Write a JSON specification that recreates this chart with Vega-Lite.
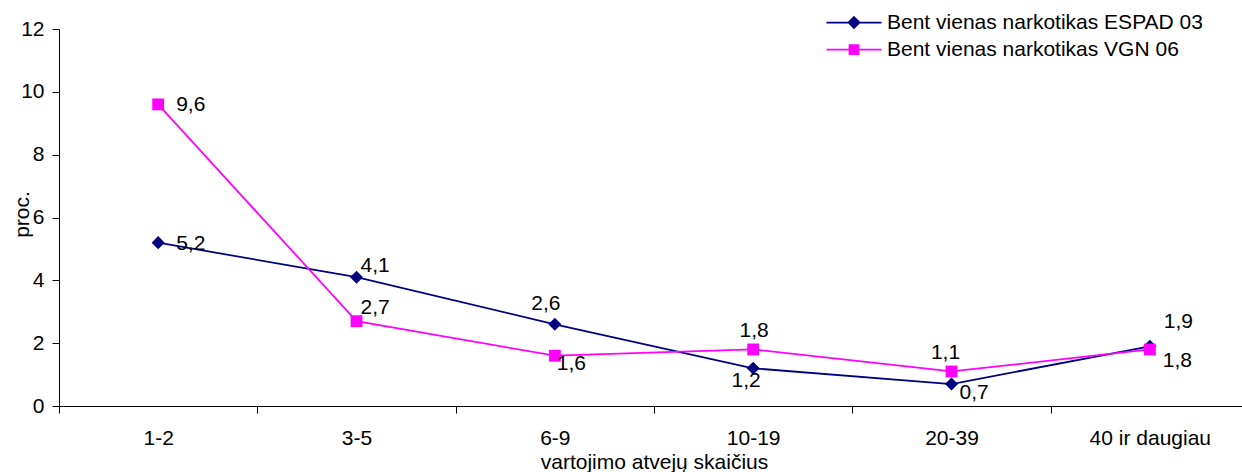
{
  "$schema": "https://vega.github.io/schema/vega-lite/v6.json",
  "width": 1183,
  "height": 377,
  "autosize": {"type": "none"},
  "padding": {"left": 59, "top": 29, "right": 0, "bottom": 66},
  "background": "white",
  "config": {
    "view": {"stroke": null},
    "locale": {"number": {"decimal": ",", "thousands": " ", "grouping": [3], "currency": ["", " €"]}},
    "font": "Liberation Sans",
    "axis": {
      "labelFont": "Liberation Sans", "labelFontSize": 21, "labelColor": "black",
      "titleFont": "Liberation Sans", "titleFontSize": 21, "titleFontWeight": "normal", "titleColor": "black",
      "domainColor": "black", "tickColor": "black", "grid": false, "tickSize": 7
    },
    "text": {"font": "Liberation Sans", "fontSize": 21, "color": "black", "baseline": "middle"}
  },
  "data": {
    "values": [
      {"cat": "1-2", "series": "Bent vienas narkotikas ESPAD 03", "value": 5.2},
      {"cat": "3-5", "series": "Bent vienas narkotikas ESPAD 03", "value": 4.1},
      {"cat": "6-9", "series": "Bent vienas narkotikas ESPAD 03", "value": 2.6},
      {"cat": "10-19", "series": "Bent vienas narkotikas ESPAD 03", "value": 1.2},
      {"cat": "20-39", "series": "Bent vienas narkotikas ESPAD 03", "value": 0.7},
      {"cat": "40 ir daugiau", "series": "Bent vienas narkotikas ESPAD 03", "value": 1.9},
      {"cat": "1-2", "series": "Bent vienas narkotikas VGN 06", "value": 9.6},
      {"cat": "3-5", "series": "Bent vienas narkotikas VGN 06", "value": 2.7},
      {"cat": "6-9", "series": "Bent vienas narkotikas VGN 06", "value": 1.6},
      {"cat": "10-19", "series": "Bent vienas narkotikas VGN 06", "value": 1.8},
      {"cat": "20-39", "series": "Bent vienas narkotikas VGN 06", "value": 1.1},
      {"cat": "40 ir daugiau", "series": "Bent vienas narkotikas VGN 06", "value": 1.8}
    ]
  },
  "encoding": {
    "x": {
      "field": "cat", "type": "nominal", "bandPosition": 0.5,
      "scale": {"type": "band", "domain": ["1-2", "3-5", "6-9", "10-19", "20-39", "40 ir daugiau"], "range": [0, 1190], "paddingInner": 0, "paddingOuter": 0},
      "axis": {"labelAngle": 0, "labelPadding": 14, "tickBand": "extent", "title": "vartojimo atvejų skaičius", "titleY": 62, "titleBaseline": "alphabetic"}
    },
    "y": {
      "field": "value", "type": "quantitative",
      "scale": {"domain": [0, 12], "nice": false},
      "axis": {"values": [0, 2, 4, 6, 8, 10, 12], "labelPadding": 8, "title": "proc.", "titleX": -31, "titleY": 185, "titleAngle": -90, "titleBaseline": "alphabetic", "titleAlign": "center"}
    }
  },
  "layer": [
    {
      "mark": {"type": "line", "strokeWidth": 1.75},
      "encoding": {
        "color": {
          "field": "series", "type": "nominal",
          "scale": {"domain": ["Bent vienas narkotikas ESPAD 03", "Bent vienas narkotikas VGN 06"], "range": ["#000080", "#FF00FF"]},
          "legend": {
            "title": null, "orient": "none", "legendX": 765, "legendY": -17, "padding": 0,
            "labelFont": "Liberation Sans", "labelFontSize": 21, "labelColor": "black", "labelLimit": 0,
            "symbolSize": 100, "labelOffset": 42, "rowPadding": 5,
            "encode": {
              "symbols": {
                "update": {
                  "shape": {"signal": "datum.value === 'Bent vienas narkotikas ESPAD 03' ? 'M-5.5,0H5.5M0,-1.1L1.1,0L0,1.1L-1.1,0Z' : 'M-5.5,0H5.5M-0.9,-0.9H0.9V0.9H-0.9Z'"},
                  "size": {"value": 100},
                  "x": {"value": 30},
                  "fill": {"scale": "color", "field": "value"},
                  "stroke": {"scale": "color", "field": "value"},
                  "strokeWidth": {"value": 1.75},
                  "opacity": {"value": 1}
                }
              }
            }
          }
        }
      }
    },
    {
      "transform": [{"filter": "datum.series === 'Bent vienas narkotikas ESPAD 03'"}],
      "mark": {"type": "point", "shape": "diamond", "filled": true, "size": 170, "color": "#000080", "opacity": 1}
    },
    {
      "transform": [{"filter": "datum.series === 'Bent vienas narkotikas VGN 06'"}],
      "mark": {"type": "point", "shape": "square", "filled": true, "size": 140, "color": "#FF00FF", "opacity": 1}
    },
    {"transform": [{"filter": "datum.series === 'Bent vienas narkotikas ESPAD 03' && datum.cat === '1-2'"}], "mark": {"type": "text", "align": "left", "dx": 18, "dy": 1}, "encoding": {"text": {"field": "value", "type": "quantitative", "format": ".1f"}}},
    {"transform": [{"filter": "datum.series === 'Bent vienas narkotikas VGN 06' && datum.cat === '1-2'"}], "mark": {"type": "text", "align": "left", "dx": 18, "dy": 1}, "encoding": {"text": {"field": "value", "type": "quantitative", "format": ".1f"}}},
    {"transform": [{"filter": "datum.series === 'Bent vienas narkotikas ESPAD 03' && datum.cat === '3-5'"}], "mark": {"type": "text", "align": "left", "dx": 4, "dy": -11}, "encoding": {"text": {"field": "value", "type": "quantitative", "format": ".1f"}}},
    {"transform": [{"filter": "datum.series === 'Bent vienas narkotikas VGN 06' && datum.cat === '3-5'"}], "mark": {"type": "text", "align": "left", "dx": 4, "dy": -13}, "encoding": {"text": {"field": "value", "type": "quantitative", "format": ".1f"}}},
    {"transform": [{"filter": "datum.series === 'Bent vienas narkotikas ESPAD 03' && datum.cat === '6-9'"}], "mark": {"type": "text", "align": "center", "dx": -9, "dy": -20}, "encoding": {"text": {"field": "value", "type": "quantitative", "format": ".1f"}}},
    {"transform": [{"filter": "datum.series === 'Bent vienas narkotikas VGN 06' && datum.cat === '6-9'"}], "mark": {"type": "text", "align": "left", "dx": 2, "dy": 8}, "encoding": {"text": {"field": "value", "type": "quantitative", "format": ".1f"}}},
    {"transform": [{"filter": "datum.series === 'Bent vienas narkotikas VGN 06' && datum.cat === '10-19'"}], "mark": {"type": "text", "align": "center", "dx": 1, "dy": -18}, "encoding": {"text": {"field": "value", "type": "quantitative", "format": ".1f"}}},
    {"transform": [{"filter": "datum.series === 'Bent vienas narkotikas ESPAD 03' && datum.cat === '10-19'"}], "mark": {"type": "text", "align": "center", "dx": -7, "dy": 13}, "encoding": {"text": {"field": "value", "type": "quantitative", "format": ".1f"}}},
    {"transform": [{"filter": "datum.series === 'Bent vienas narkotikas VGN 06' && datum.cat === '20-39'"}], "mark": {"type": "text", "align": "center", "dx": -6, "dy": -18}, "encoding": {"text": {"field": "value", "type": "quantitative", "format": ".1f"}}},
    {"transform": [{"filter": "datum.series === 'Bent vienas narkotikas ESPAD 03' && datum.cat === '20-39'"}], "mark": {"type": "text", "align": "left", "dx": 8, "dy": 9}, "encoding": {"text": {"field": "value", "type": "quantitative", "format": ".1f"}}},
    {"transform": [{"filter": "datum.series === 'Bent vienas narkotikas ESPAD 03' && datum.cat === '40 ir daugiau'"}], "mark": {"type": "text", "align": "left", "dx": 14, "dy": -24}, "encoding": {"text": {"field": "value", "type": "quantitative", "format": ".1f"}}},
    {"transform": [{"filter": "datum.series === 'Bent vienas narkotikas VGN 06' && datum.cat === '40 ir daugiau'"}], "mark": {"type": "text", "align": "left", "dx": 13, "dy": 12}, "encoding": {"text": {"field": "value", "type": "quantitative", "format": ".1f"}}}
  ]
}
